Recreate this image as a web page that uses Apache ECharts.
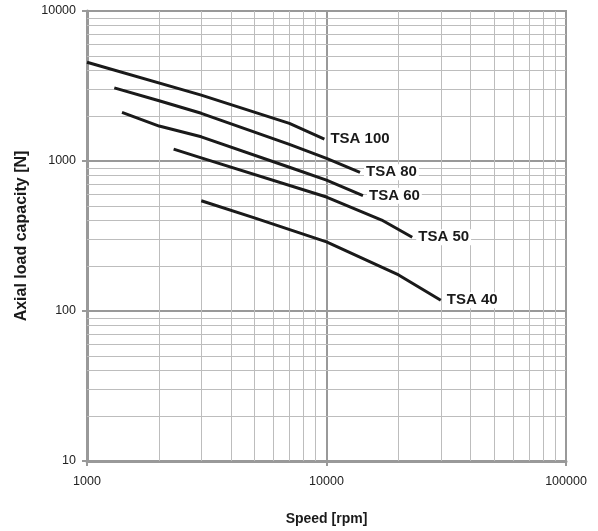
<!DOCTYPE html>
<html>
<head>
<meta charset="utf-8">
<script src="https://cdn.jsdelivr.net/npm/echarts@6/dist/echarts.min.js"></script>
<style>html,body{margin:0;padding:0;background:#fff;}#c{width:598px;height:531px;}</style>
</head>
<body>
<div id="c"></div>
<script>
// Data
const seriesNames = ['TSA 100', 'TSA 80', 'TSA 60', 'TSA 50', 'TSA 40'];
const tsa100Speed = [1000, 3000, 7000, 9800];
const tsa100Load  = [4550, 2750, 1780, 1400];
const tsa80Speed  = [1300, 2000, 3000, 7000, 10000, 13800];
const tsa80Load   = [3070, 2520, 2080, 1290, 1040, 840];
const tsa60Speed  = [1400, 2000, 3000, 7000, 10000, 14200];
const tsa60Load   = [2110, 1710, 1450, 908, 745, 587];
const tsa50Speed  = [2300, 3000, 10000, 17000, 22800];
const tsa50Load   = [1200, 1050, 575, 404, 310];
const tsa40Speed  = [3000, 5000, 10000, 20000, 30000];
const tsa40Load   = [543, 418, 289, 174, 118];
const xTickLabels = ['1000', '10000', '100000'];
const yTickLabels = ['10', '100', '1000', '10000'];
const xMinorGrid = [2000,3000,4000,5000,6000,7000,8000,9000,20000,30000,40000,50000,60000,70000,80000,90000];
const yMinorGrid = [20,30,40,50,60,70,80,90,200,300,400,500,600,700,800,900,2000,3000,4000,5000,6000,7000,8000,9000];

const speeds = [tsa100Speed, tsa80Speed, tsa60Speed, tsa50Speed, tsa40Speed];
const loads = [tsa100Load, tsa80Load, tsa60Load, tsa50Load, tsa40Load];

const FONT = "'Liberation Sans', Arial, sans-serif";
const chart = echarts.init(document.getElementById('c'), null, {renderer: 'canvas'});

function lookup(labels) {
  return function (v) {
    const s = String(Math.round(v));
    return labels.indexOf(s) >= 0 ? s : '';
  };
}

const dataSeries = seriesNames.map((name, i) => ({
  name: name,
  type: 'line',
  z: 5,
  symbol: 'none',
  silent: true,
  data: speeds[i].map((s, j) => [s, loads[i][j]]),
  lineStyle: {color: '#1a1a1a', width: 3},
  endLabel: {
    show: true,
    formatter: name,
    distance: 4,
    color: '#1a1a1a',
    fontFamily: FONT,
    fontWeight: 'bold',
    fontSize: 15,
    backgroundColor: '#fff',
    padding: [1, 2, 0, 2]
  }
}));

const gridSeries = {
  type: 'line',
  z: 1,
  data: [],
  silent: true,
  markLine: {
    silent: true,
    symbol: 'none',
    animation: false,
    label: {show: false},
    lineStyle: {color: '#bdbdbd', width: 1, type: 'solid'},
    data: xMinorGrid.map(v => ({xAxis: v})).concat(yMinorGrid.map(v => ({yAxis: v})))
  }
};

chart.setOption({
  animation: false,
  grid: {left: 87, right: 32, top: 11, bottom: 70, show: true, borderColor: '#999', borderWidth: 2, backgroundColor: 'transparent', containLabel: false, outerBoundsMode: 'none'},
  xAxis: {
    type: 'log',
    logBase: 10,
    min: 1000,
    max: 100000,
    name: 'Speed [rpm]',
    nameLocation: 'middle',
    nameGap: 51,
    nameMoveOverlap: false,
    nameTextStyle: {fontFamily: FONT, fontWeight: 'bold', fontSize: 14, color: '#1a1a1a'},
    axisLine: {show: true, lineStyle: {color: '#999', width: 3}},
    axisTick: {show: true, length: 5, lineStyle: {color: '#999', width: 2}},
    axisLabel: {fontFamily: FONT, fontSize: 12.5, color: '#222', margin: 14, formatter: lookup(xTickLabels)},
    splitLine: {show: true, lineStyle: {color: '#999', width: 2}}
  },
  yAxis: {
    type: 'log',
    logBase: 10,
    min: 10,
    max: 10000,
    name: 'Axial load capacity [N]',
    nameLocation: 'middle',
    nameGap: 57,
    nameMoveOverlap: false,
    nameTextStyle: {fontFamily: FONT, fontWeight: 'bold', fontSize: 16, color: '#1a1a1a'},
    axisLine: {show: true, lineStyle: {color: '#999', width: 3}},
    axisTick: {show: true, length: 5, lineStyle: {color: '#999', width: 2}},
    axisLabel: {fontFamily: FONT, fontSize: 12.5, color: '#222', margin: 11, formatter: lookup(yTickLabels)},
    splitLine: {show: true, lineStyle: {color: '#999', width: 2}}
  },
  series: [gridSeries].concat(dataSeries)
});
</script>
</body>
</html>
